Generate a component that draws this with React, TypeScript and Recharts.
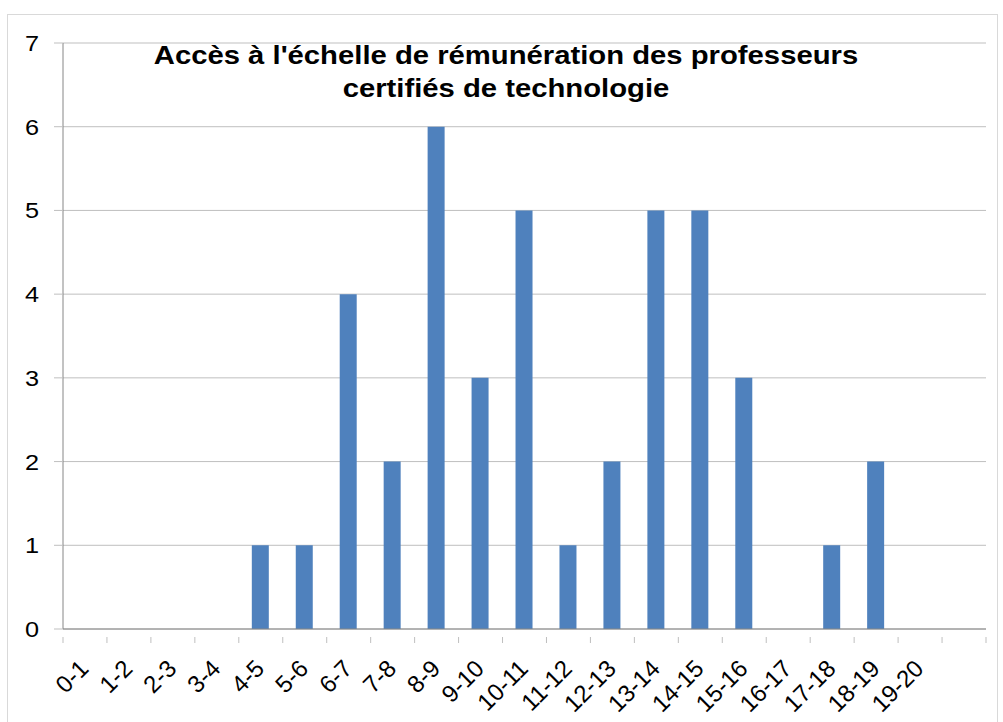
import React from 'react';
import { BarChart, Bar, XAxis, YAxis, CartesianGrid } from 'recharts';

const tranches = ['0-1', '1-2', '2-3', '3-4', '4-5', '5-6', '6-7', '7-8', '8-9', '9-10', '10-11', '11-12', '12-13', '13-14', '14-15', '15-16', '16-17', '17-18', '18-19', '19-20', ''];
const effectifs = [0, 0, 0, 0, 1, 1, 4, 2, 6, 3, 5, 1, 2, 5, 5, 3, 0, 1, 2, 0, 0];
const yTicks = [0, 1, 2, 3, 4, 5, 6, 7];

const data = tranches.map((t, i) => ({ tranche: t, n: effectifs[i] }));

const W = 1003;
const H = 722;
const M = { top: 43, right: 17, left: 0, bottom: 0 };
const Y_W = 63;
const X_H = 93;
const halfBand = (W - M.right - Y_W) / tranches.length / 2;

const font = 'Arial, "Liberation Sans", sans-serif';

const XTick = (props: any) => {
  const { x, y, payload, index } = props;
  const ax = x + 5;
  const ay = y + 33;
  return (
    <g>
      <line x1={x - halfBand} x2={x - halfBand} y1={y} y2={y + 6} stroke="#bfbfbf" />
      {index === tranches.length - 1 && (
        <line x1={x + halfBand} x2={x + halfBand} y1={y} y2={y + 6} stroke="#bfbfbf" />
      )}
      <text
        x={ax}
        y={ay}
        textAnchor="end"
        transform={`rotate(-45, ${ax}, ${ay})`}
        fontSize={24}
        fontFamily={font}
        fill="#000"
      >
        {payload.value}
      </text>
    </g>
  );
};

const YTick = (props: any) => {
  const { x, y, payload } = props;
  return (
    <text
      x={0}
      y={0}
      dy="0.36em"
      textAnchor="end"
      transform={`translate(${x}, ${y}) scale(1.15, 1)`}
      fontSize={22}
      fontFamily={font}
      fill="#000"
    >
      {payload.value}
    </text>
  );
};

export default function App() {
  return (
    <div style={{ position: 'absolute', left: 0, top: 0, width: W, height: H, background: '#fff', overflow: 'hidden' }}>
      <div style={{ position: 'absolute', left: 7, top: 14, width: 989, height: 740, border: '1px solid #d9d9d9' }} />
      <BarChart width={W} height={H} data={data} margin={M} barSize={17}>
        <CartesianGrid vertical={false} stroke="#bfbfbf" />
        <XAxis
          dataKey="tranche"
          height={X_H}
          interval={0}
          stroke="#868686"
          tickLine={false}
          tick={<XTick />}
        />
        <YAxis
          width={Y_W}
          domain={[0, 7]}
          ticks={yTicks}
          stroke="#868686"
          tickSize={9}
          tickMargin={15}
          tickLine={{ stroke: '#bfbfbf' }}
          tick={<YTick />}
        />
        <Bar dataKey="n" fill="#4f81bd" isAnimationActive={false} />
      </BarChart>
      <div
        style={{
          position: 'absolute',
          left: 106,
          width: 800,
          top: 39,
          textAlign: 'center',
          fontFamily: font,
          fontWeight: 'bold',
          fontSize: 25,
          lineHeight: '33px',
          color: '#000',
          transform: 'scaleX(1.17)',
          transformOrigin: '400px 0',
        }}
      >
        Accès à l'échelle de rémunération des professeurs
        <br />
        certifiés de technologie
      </div>
    </div>
  );
}
